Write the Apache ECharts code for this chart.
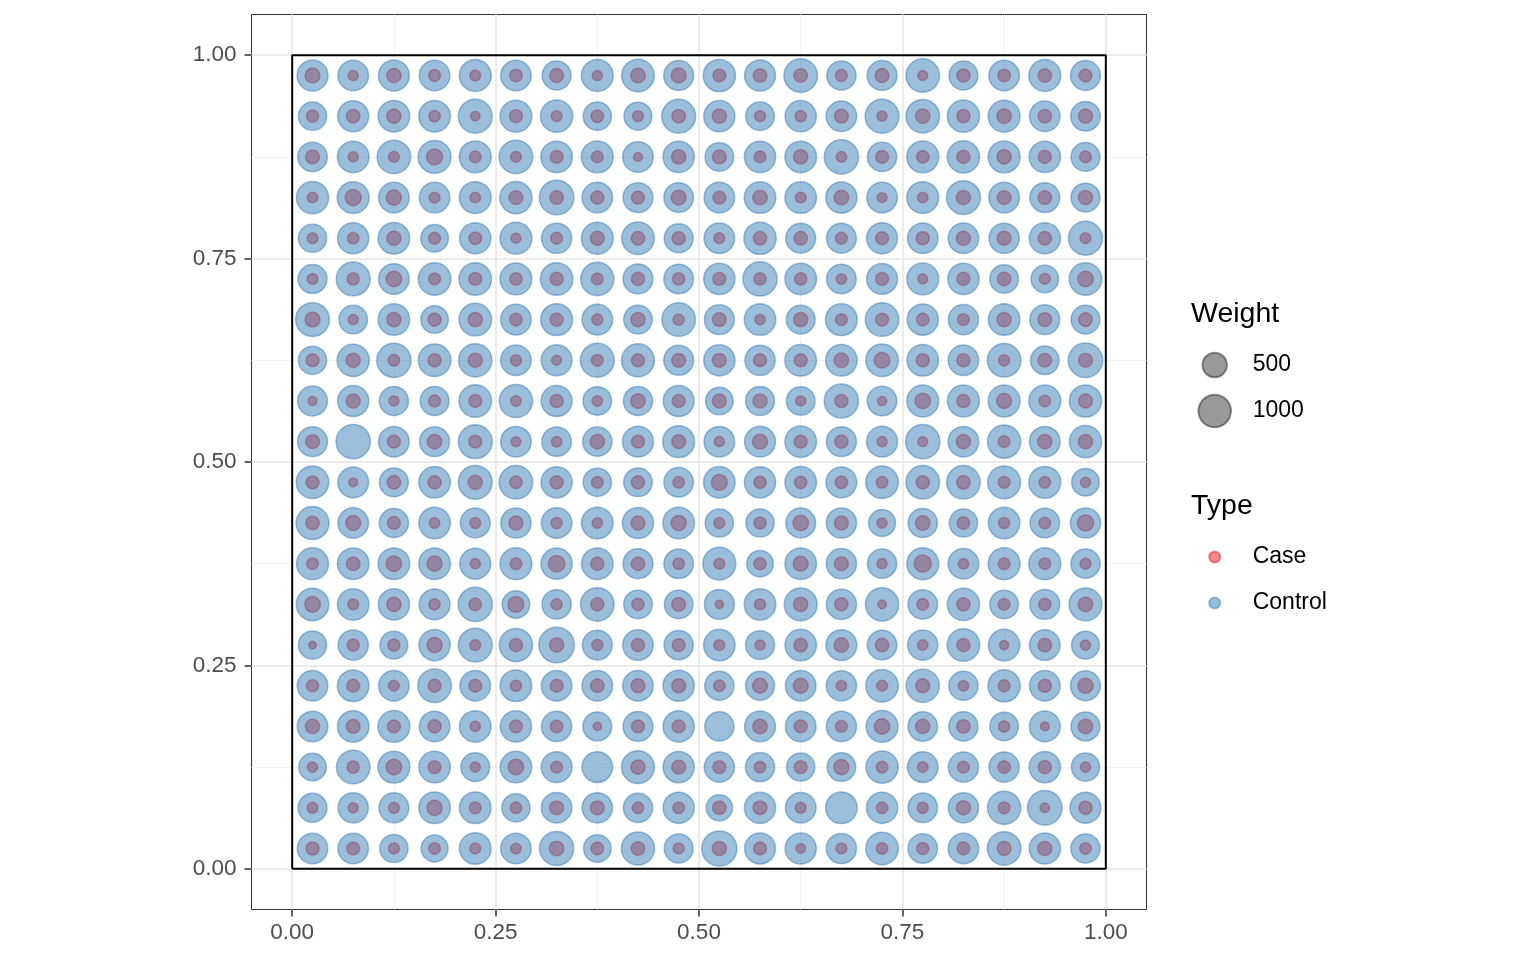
<!DOCTYPE html>
<html><head><meta charset="utf-8">
<script src="https://cdn.jsdelivr.net/npm/echarts@6/dist/echarts.min.js"></script>
<style>html,body{margin:0;padding:0;background:#fff}#chart{width:1536px;height:960px}</style>
</head><body><div id="chart"></div>
<script>
// grid cell centres
const xCenters = [0.025,0.075,0.125,0.175,0.225,0.275,0.325,0.375,0.425,0.475,0.525,0.575,0.625,0.675,0.725,0.775,0.825,0.875,0.925,0.975];
const yCenters = [0.975,0.925,0.875,0.825,0.775,0.725,0.675,0.625,0.575,0.525,0.475,0.425,0.375,0.325,0.275,0.225,0.175,0.125,0.075,0.025];
// axis ticks
const majorTicks = [0, 0.25, 0.5, 0.75, 1];
const minorTicks = [0.125, 0.375, 0.625, 0.875];
// study region outline
const boxX = [0, 1];
const boxY = [0, 1];
// weight legend values
const weightLegend = [500, 1000];
const typeNames = ['Case', 'Control'];

// Control weights, rows top (y=0.975) to bottom (y=0.025), columns x=0.025..0.975
const controlWeight = [
[882,859,882,859,952,859,749,952,1000,814,976,882,1074,771,814,1074,749,859,952,814],
[708,882,928,928,1100,952,976,708,687,1100,905,728,905,859,1100,1074,976,952,859,792],
[792,928,1074,1024,952,1074,928,952,859,905,728,905,928,1126,771,952,976,952,905,749],
[976,952,859,859,952,976,1152,859,814,792,859,928,928,905,859,952,1100,859,814,749],
[708,905,928,667,905,952,836,952,1000,749,859,976,814,814,882,859,859,836,905,1100],
[749,1100,859,1000,1000,952,1000,1049,814,792,905,1126,928,792,882,952,905,728,667,1000],
[1100,728,928,667,1000,859,952,859,728,1074,814,928,749,952,1074,905,836,928,814,749],
[708,976,1126,1000,1049,859,882,1100,1024,814,905,836,928,928,1000,928,859,1074,728,1152],
[814,905,771,749,1000,1049,882,728,771,882,667,749,728,1126,792,952,952,952,952,976],
[814,1126,859,814,1100,859,792,771,882,952,859,882,928,814,882,1126,859,1049,859,976],
[1000,882,749,928,1100,1074,905,708,728,792,928,905,928,882,1000,1074,1074,1024,952,667],
[1024,859,771,928,814,836,859,928,905,928,708,708,814,836,628,771,708,928,792,836],
[952,928,928,928,882,952,905,928,814,792,1024,609,928,836,771,952,859,952,952,771],
[1000,928,905,882,1126,667,771,1074,728,728,814,928,1024,836,1049,792,976,728,814,1024],
[708,836,687,905,1100,1049,1232,814,859,771,928,749,928,882,792,836,1000,928,859,687],
[859,928,859,1074,859,928,859,859,859,905,771,749,859,836,1000,1049,771,976,859,814],
[859,928,952,859,928,905,836,749,814,905,771,882,859,836,952,792,771,728,882,749],
[667,1074,952,928,749,928,882,859,1024,905,836,771,708,728,976,859,836,836,905,708],
[749,836,814,928,928,708,859,836,771,905,590,905,859,928,905,792,836,1049,1152,882],
[859,859,708,628,928,859,1126,667,1049,749,1205,882,905,836,1000,792,859,1074,905,771]
];

// Case weights, same layout (null = no case in that cell)
const caseWeight = [
[125,33,108,59,43,72,100,33,116,125,79,93,93,59,100,29,85,72,93,79],
[65,93,108,48,25,79,43,72,43,93,108,43,48,100,33,116,85,116,93,108],
[100,33,43,152,54,43,79,59,18,108,100,54,108,38,79,72,85,108,85,54],
[38,162,134,43,38,100,93,85,79,125,79,116,43,116,29,38,108,100,93,108],
[43,54,108,59,72,33,59,100,93,85,43,93,93,59,79,85,108,100,93,43],
[43,65,143,59,79,72,85,59,85,65,79,65,65,38,79,29,85,93,43,143],
[125,33,108,85,108,72,85,48,108,48,100,33,108,59,79,72,59,108,100,93],
[79,108,54,85,108,48,29,59,79,100,100,79,79,116,143,85,85,48,93,100],
[18,108,33,59,79,38,85,38,116,79,100,108,33,85,21,143,85,125,54,100],
[100,null,79,116,79,29,38,116,79,100,33,125,79,85,33,29,108,59,108,108],
[79,18,93,85,108,72,85,59,85,54,152,65,65,72,54,85,93,59,54,33],
[93,125,79,38,43,100,48,38,100,134,43,65,143,100,33,116,72,48,54,162],
[54,93,143,134,33,59,172,85,93,54,43,65,125,100,33,193,38,59,54,43],
[143,43,108,48,72,152,48,85,65,100,12,43,108,85,15,59,85,59,65,116],
[7,65,65,134,43,85,108,48,85,79,43,33,93,116,93,38,85,21,93,33],
[65,79,43,79,79,48,79,93,100,100,54,125,125,38,43,100,38,59,85,134],
[108,100,79,85,33,79,72,12,79,79,null,116,79,59,143,108,93,48,18,116],
[33,65,143,79,33,143,59,null,108,100,79,54,79,134,54,38,59,72,85,33],
[43,33,43,134,59,54,100,100,54,54,93,100,43,null,54,48,108,59,25,85],
[85,79,43,54,43,38,116,72,93,43,108,79,25,43,54,65,79,100,108,54]
];

const FONT = '"Liberation Sans", Arial, Helvetica, sans-serif';
const CASE_COL = 'rgba(228,26,28,0.5)';
const CTRL_COL = 'rgba(55,126,184,0.5)';
const WT_COL = 'rgba(0,0,0,0.5)';

// area-style size scale
function sizeOf(w) { return 5.2 + 0.864 * Math.sqrt(w); }

function buildPoints(rows) {
  const out = [];
  rows.forEach((row, i) => row.forEach((w, j) => {
    if (w != null) out.push([xCenters[j], yCenters[i], w]);
  }));
  return out;
}

const boxLine = [
  [boxX[0], boxY[0]], [boxX[0], boxY[1]], [boxX[1], boxY[1]], [boxX[1], boxY[0]], [boxX[0], boxY[0]]
];

function makeAxis(isX, major) {
  const vals = major ? majorTicks : minorTicks;
  return {
    type: 'value', gridIndex: 0, min: -0.05, max: 1.05,
    position: isX ? (major ? 'bottom' : 'top') : (major ? 'left' : 'right'),
    axisLine: { show: false, onZero: false },
    axisTick: { show: major, length: 7, customValues: vals, lineStyle: { color: '#333333', width: 1.5 } },
    axisLabel: {
      show: major, customValues: vals, formatter: v => v.toFixed(2),
      fontSize: 22.5, color: '#4D4D4D', fontFamily: FONT, margin: isX ? 12 : 15
    },
    splitLine: { show: true, lineStyle: { color: major ? '#EBEBEB' : '#F3F3F3', width: major ? 2 : 1 } },
    minorSplitLine: { show: false }
  };
}

const iconCX = 1213.7;
const legendW = 66;
const h500 = sizeOf(weightLegend[0]), h1000 = sizeOf(weightLegend[1]), hType = 11;
const legText = { fontSize: 23, fontFamily: FONT, color: '#000', lineHeight: 23 };

const option = {
  animation: false,
  backgroundColor: '#ffffff',
  grid: {
    left: 251.5, top: 14.5, width: 895, height: 895,
    show: true, borderColor: '#333333', borderWidth: 1, backgroundColor: 'transparent',
    containLabel: false, outerBoundsMode: 'none'
  },
  xAxis: [makeAxis(true, true), makeAxis(true, false)],
  yAxis: [makeAxis(false, true), makeAxis(false, false)],
  legend: [
    {
      data: [String(weightLegend[0])], left: iconCX - h500 / 2, top: 364 - Math.max(h500, 23) / 2,
      itemWidth: legendW, itemHeight: h500, padding: 0, selectedMode: false,
      icon: 'circle', textStyle: legText
    },
    {
      data: [String(weightLegend[1])], left: iconCX - h1000 / 2, top: 410 - Math.max(h1000, 23) / 2,
      itemWidth: legendW, itemHeight: h1000, padding: 0, selectedMode: false,
      icon: 'circle', textStyle: legText
    },
    {
      data: typeNames, orient: 'vertical', left: iconCX - hType / 2, top: 557 - 11.5,
      itemWidth: legendW, itemHeight: hType, itemGap: 23, padding: 0, selectedMode: false,
      icon: 'circle', textStyle: legText
    }
  ],
  graphic: [
    { type: 'text', x: 1191, y: 314, style: { text: 'Weight', font: '28.5px ' + FONT, fill: '#000', verticalAlign: 'middle' } },
    { type: 'text', x: 1191, y: 506, style: { text: 'Type', font: '28.5px ' + FONT, fill: '#000', verticalAlign: 'middle' } }
  ],
  series: [
    {
      name: typeNames[0], type: 'scatter', data: buildPoints(caseWeight),
      symbol: 'circle', symbolSize: v => sizeOf(v[2]),
      itemStyle: { color: CASE_COL, borderColor: CASE_COL, borderWidth: 1.5, opacity: 1 },
      emphasis: { disabled: true }, silent: true, z: 2
    },
    {
      name: typeNames[1], type: 'scatter', data: buildPoints(controlWeight),
      symbol: 'circle', symbolSize: v => sizeOf(v[2]),
      itemStyle: { color: CTRL_COL, borderColor: CTRL_COL, borderWidth: 1.5, opacity: 1 },
      emphasis: { disabled: true }, silent: true, z: 3
    },
    {
      name: 'box', type: 'line', data: boxLine, symbol: 'none', silent: true,
      lineStyle: { color: '#000000', width: 2 }, z: 4, animation: false
    },
    {
      name: String(weightLegend[0]), type: 'scatter', data: [], symbol: 'circle',
      itemStyle: { color: WT_COL, borderColor: WT_COL, borderWidth: 1.5 }
    },
    {
      name: String(weightLegend[1]), type: 'scatter', data: [], symbol: 'circle',
      itemStyle: { color: WT_COL, borderColor: WT_COL, borderWidth: 1.5 }
    }
  ]
};

const chart = echarts.init(document.getElementById('chart'), null, { renderer: 'canvas' });
chart.setOption(option);
</script>
</body></html>
